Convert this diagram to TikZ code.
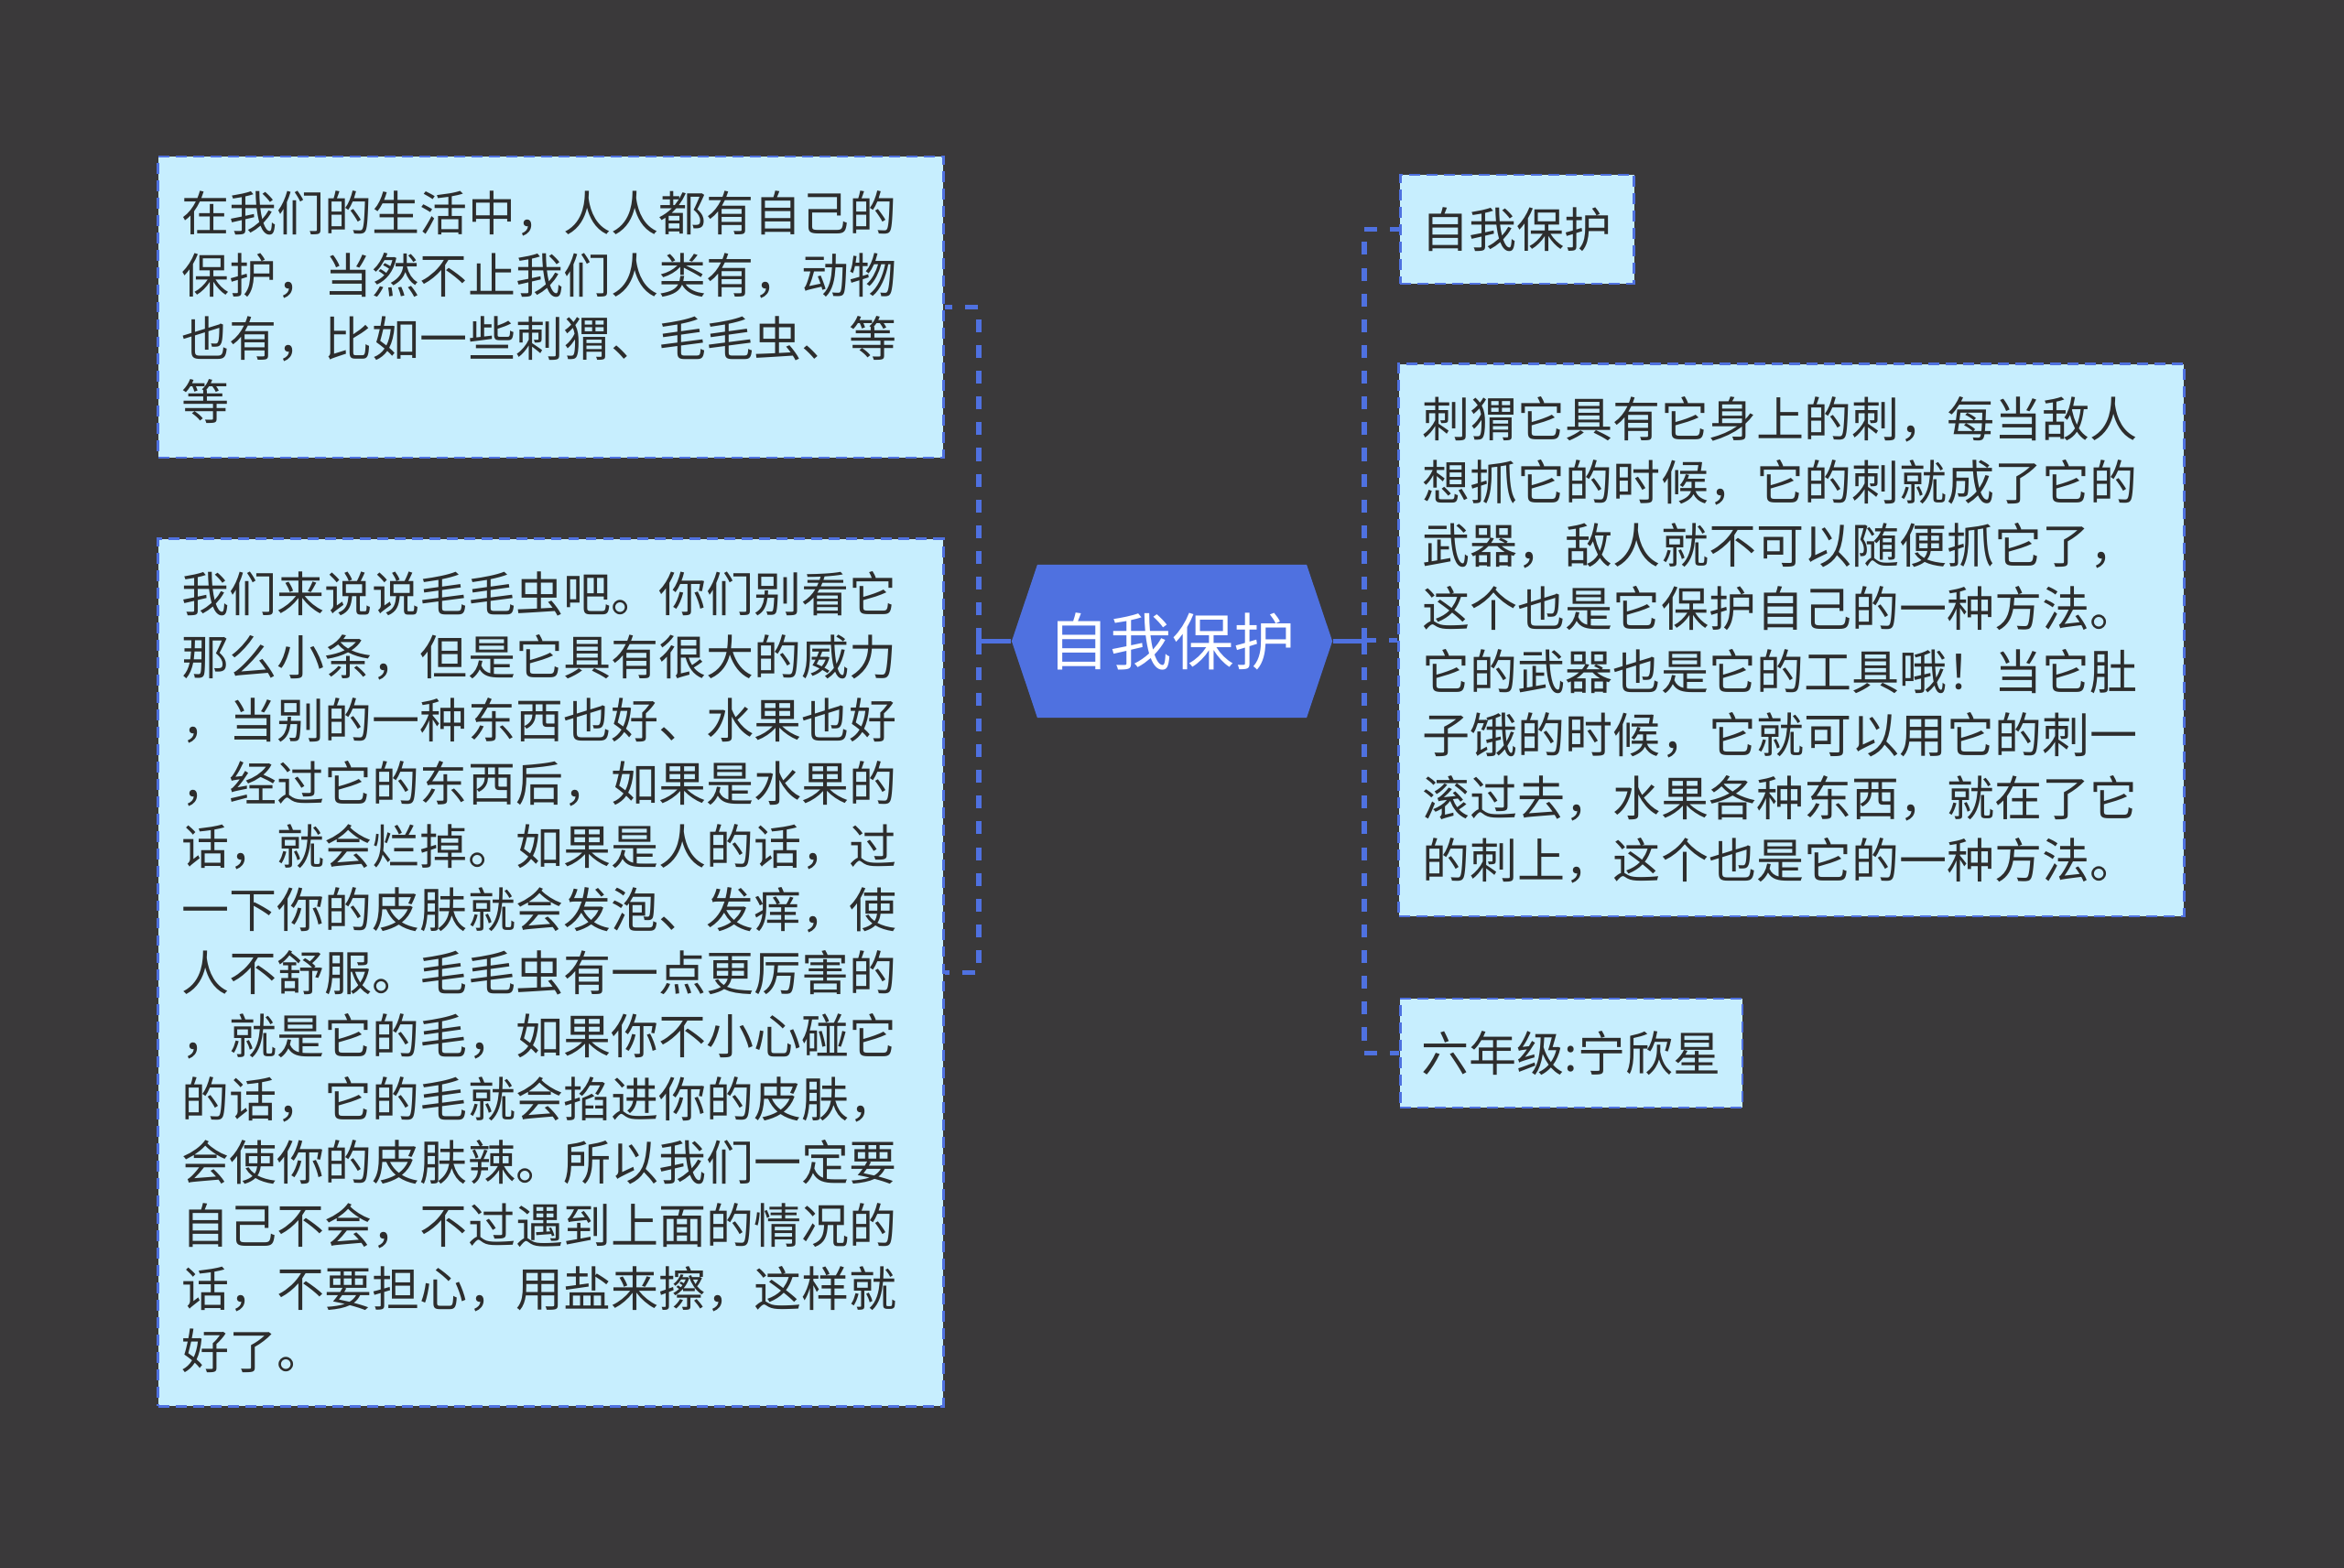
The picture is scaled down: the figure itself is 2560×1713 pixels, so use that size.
\documentclass[tikz,border=0pt]{standalone}
\usepackage{fontspec}
\newfontfamily\cjk{Noto Sans CJK SC}
\definecolor{bgdark}{RGB}{58,57,58}
\definecolor{hubblue}{RGB}{79,113,224}
\definecolor{leafcyan}{RGB}{199,238,254}
\definecolor{inkgray}{RGB}{45,45,45}
\tikzset{
  leaf/.style={draw=hubblue, line width=0.75pt, dash pattern=on 3.4pt off 2pt, fill=leafcyan, text=inkgray,
    inner xsep=0.26cm, inner ysep=0pt, align=left, font=\cjk\fontsize{14.8pt}{19.6pt}\selectfont},
  tag/.style={leaf, inner xsep=0.235cm, minimum height=1.19cm, anchor=west},
  hub/.style={minimum width=3.5cm, minimum height=1.67cm, text=white, font=\cjk\fontsize{19.2pt}{24pt}\selectfont,
    path picture={\fill[hubblue] (path picture bounding box.west) -- ([xshift=0.28cm]path picture bounding box.north west)
      -- ([xshift=-0.28cm]path picture bounding box.north east) -- (path picture bounding box.east)
      -- ([xshift=-0.28cm]path picture bounding box.south east) -- ([xshift=0.28cm]path picture bounding box.south west) -- cycle;}},
  stem/.style={draw=hubblue, line width=1.6pt},
  branch/.style={stem, dash pattern=on 4pt off 4pt}
}
\begin{document}
\begin{tikzpicture}[x=0.01cm,y=-0.01cm]
\fill[bgdark] (0,0) rectangle (2560,1713);
\node[hub] (hub) at (1280,700.5) {自我保护};
\node[leaf, text width=8.05cm, minimum height=3.29cm] (care) at (601.5,335.5) {在我们的生活中，人人都有自己的\\保护，当然不止我们人类有，动物\\也有，比如一些刺猬、毛毛虫、等\\等};
\node[leaf, text width=8.05cm, minimum height=9.47cm] (worm) at (601.5,1062.5) {我们来说说毛毛虫吧。你们别看它\\那么小条，但是它具有很大的威力\\，当别的一种东西也好、水果也好\\，经过它的东西后，如果是水果的\\话，就会烂掉。如果是人的话，过\\一下你的皮肤就会发泡、发痒，使\\人不舒服。毛毛虫有一点更厉害的\\，就是它的毛，如果你不小心碰它\\的话，它的毛就会掐进你的皮肤，\\会使你的皮肤辣。所以我们一定要\\自己不会，不过遇到上面的情况的\\话，不要担心，用盐来擦，这样就\\好了。};
\node[tag] (selfdef) at (1528,250.5) {自我保护};
\node[leaf, text width=8.05cm, minimum height=6.03cm] (hedgehog) at (1956.5,699.5) {刺猬它具有它身上的刺，每当敌人\\想抓它的时候，它的刺就成了它的\\武器，敌人就不可以随便抓它了，\\这个也是它保护自己的一种方法。\\它的武器也是它的工具哦！当它肚\\子饿的时候，它就可以用它的刺一\\滚过去，水果各种东西，就在了它\\的刺上，这个也是它的一种方法。};
\node[tag] (author) at (1528,1150.5) {六年级:宁欣星};
\coordinate (ltrunk) at (1069,700.5); \coordinate (rtrunk) at (1490,700.5);
\draw[stem] (hub.west) -- (ltrunk); \draw[stem] (hub.east) -- (rtrunk);
\foreach \n in {care,worm} { \draw[branch] (ltrunk) |- (\n.east); };
\foreach \n in {selfdef,hedgehog,author} { \draw[branch] (rtrunk) |- (\n.west); };
\end{tikzpicture}
\end{document}
